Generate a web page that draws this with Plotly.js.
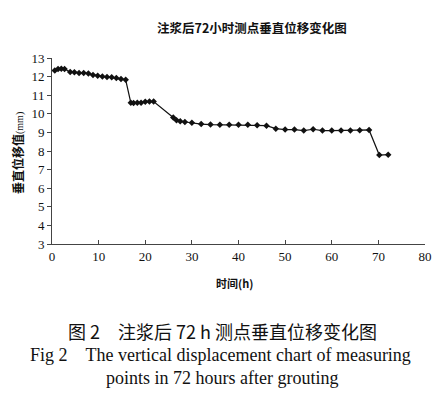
<!DOCTYPE html>
<html><head><meta charset="utf-8">
<script src="https://cdn.plot.ly/plotly-3.0.1.min.js"></script>
<style>html,body{margin:0;padding:0;background:#fff}#chart{width:437px;height:399px}</style>
</head><body><div id="chart"></div>
<script>
const hours = [0.6,1.3,2,2.7,3.9,4.8,5.8,6.8,7.8,8.8,9.8,10.8,11.8,12.8,13.8,14.8,15.8,
  16.9,17.5,18.3,19.1,20,20.9,21.8,
  26,26.7,27.5,28.5,30,32,34,36,38,40,42,44,46,48,50,52,54,56,58,60,62,64,66,68,70.2,72.1];
const displacement = [12.33,12.41,12.42,12.41,12.25,12.23,12.19,12.19,12.16,12.09,12.05,12.01,11.98,11.96,11.92,11.87,11.83,
  10.6,10.58,10.6,10.6,10.65,10.66,10.66,
  9.8,9.65,9.6,9.56,9.52,9.45,9.42,9.41,9.41,9.41,9.41,9.38,9.36,9.2,9.15,9.15,9.1,9.17,9.1,9.1,9.1,9.1,9.12,9.13,7.78,7.8];
const xTicks = [0,10,20,30,40,50,60,70,80];
const yTicks = [3,4,5,6,7,8,9,10,11,12,13];
const chartTitle = '注浆后72小时测点垂直位移变化图';
const xTitle = '时间(h)';
const yTitleMain = '垂直位移值';
const yTitleUnit = '(mm)';
const caption1 = '图 2　注浆后 72 h 测点垂直位移变化图';
const caption2 = 'Fig 2　The vertical displacement chart of measuring';
const caption3 = 'points in 72 hours after grouting';

const W = 437, H = 399, L = 52, R = 12, T = 58, B = 155;
const pw = W - L - R, ph = H - T - B;
const px = v => (v - L) / pw;
const py = v => (H - B - v) / ph;
const serif = 'Liberation Serif';
const cjk = 'Noto Sans CJK SC';

const trace = {
  x: hours, y: displacement, type: 'scatter', mode: 'lines+markers',
  line: {color: '#111', width: 1.2},
  marker: {symbol: 'diamond', size: 5, color: '#111'},
  showlegend: false, hoverinfo: 'skip'
};

const layout = {
  width: W, height: H,
  margin: {l: L, r: R, t: T, b: B, pad: 0},
  paper_bgcolor: '#fff', plot_bgcolor: '#fff',
  showlegend: false,
  xaxis: {range: [0, 80], tickvals: xTicks, ticktext: xTicks.map(String),
    showgrid: false, zeroline: false, showline: true, linecolor: '#444', linewidth: 1,
    ticks: 'inside', ticklen: 4, tickcolor: '#444',
    tickfont: {family: serif, size: 13, color: '#111'}, fixedrange: true},
  yaxis: {range: [3, 13], tickvals: yTicks, ticktext: yTicks.map(String),
    showgrid: false, zeroline: false, showline: true, linecolor: '#444', linewidth: 1,
    ticks: 'outside', ticklen: 4, tickcolor: '#444',
    tickfont: {family: serif, size: 13, color: '#111'}, fixedrange: true},
  annotations: [
    {text: '<b>' + chartTitle + '</b>', xref: 'paper', yref: 'paper', x: px(252), y: py(28),
      showarrow: false, xanchor: 'center', yanchor: 'middle', font: {family: cjk, size: 12.5, color: '#111'}},
    {text: '<b>' + xTitle + '</b>', xref: 'paper', yref: 'paper', x: px(234), y: py(283),
      showarrow: false, xanchor: 'center', yanchor: 'middle', font: {family: cjk, size: 11, color: '#111'}},
    {text: '<b>' + yTitleMain + '</b><span style="font-size:10px;font-family:Liberation Serif">' + yTitleUnit + '</span>',
      xref: 'paper', yref: 'paper', x: px(17), y: py(153), textangle: -90,
      showarrow: false, xanchor: 'center', yanchor: 'middle', font: {family: cjk, size: 12, color: '#111'}},
    {text: caption1, xref: 'paper', yref: 'paper', x: px(222), y: py(331),
      showarrow: false, xanchor: 'center', yanchor: 'middle', font: {family: cjk, size: 18, color: '#111'}},
    {text: caption2, xref: 'paper', yref: 'paper', x: px(220), y: py(355),
      showarrow: false, xanchor: 'center', yanchor: 'middle', font: {family: serif, size: 18, color: '#111'}},
    {text: caption3, xref: 'paper', yref: 'paper', x: px(222), y: py(378),
      showarrow: false, xanchor: 'center', yanchor: 'middle', font: {family: serif, size: 18, color: '#111'}}
  ]
};
Plotly.newPlot('chart', [trace], layout, {staticPlot: true, displayModeBar: false});
</script></body></html>
